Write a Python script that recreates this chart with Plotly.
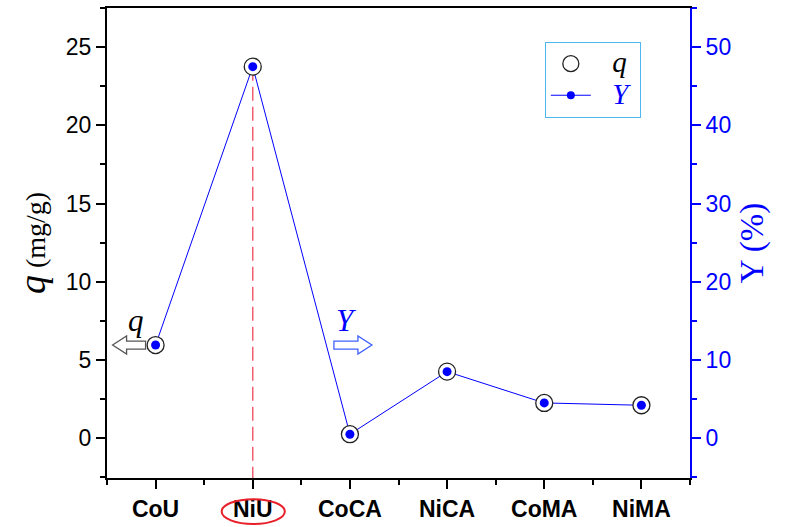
import plotly.graph_objects as go

categories = ["CoU", "NiU", "CoCA", "NiCA", "CoMA", "NiMA"]
q_values = [5.95, 23.75, 0.25, 4.25, 2.25, 2.1]
Y_values = [11.9, 47.5, 0.5, 8.5, 4.5, 4.2]
x_pos = list(range(len(categories)))

BLUE = "#0000ff"
q_range = [-2.55, 27.5]
Y_range = [-5.1, 55.0]

fig = go.Figure()

# Y line + markers (legend entry)
fig.add_trace(go.Scatter(
    x=x_pos, y=Y_values, yaxis="y2", mode="lines+markers",
    name="&nbsp;&nbsp;&nbsp;<span style='font-size:29px;color:#0000ff'><i>Y</i></span>&nbsp;",
    line=dict(color=BLUE, width=1), marker=dict(color=BLUE, size=8),
    legendrank=2, cliponaxis=False))
# q markers on top of the line
fig.add_trace(go.Scatter(
    x=x_pos, y=q_values, yaxis="y3", mode="markers",
    name="&nbsp;&nbsp;&nbsp;<span style='font-size:29px'><i>q</i></span>&nbsp;",
    marker=dict(symbol="circle", size=17, color="white",
                line=dict(color="#222", width=1.3)),
    legendrank=1, cliponaxis=False))
# Y dots on top again
fig.add_trace(go.Scatter(
    x=x_pos, y=Y_values, yaxis="y4", mode="markers", showlegend=False,
    marker=dict(color=BLUE, size=9), cliponaxis=False))

tickfont = dict(family="Liberation Sans, Arial", size=23, color="black")

fig.update_layout(
    width=786, height=527,
    margin=dict(l=107, r=96, t=8, b=49),
    paper_bgcolor="white", plot_bgcolor="white",
    xaxis=dict(
        range=[-0.5, 5.5], tickmode="array", tickvals=x_pos, ticktext=categories,
        automargin=False,
        showgrid=False, zeroline=False, showline=True, linecolor="black",
        linewidth=2, mirror=True, ticks="outside", ticklen=9, tickwidth=2,
        tickcolor="black",
        tickfont=dict(family="Liberation Sans Narrow, Arial Narrow, Liberation Sans",
                      size=23, color="black", weight="bold"),
        minor=dict(dtick=0.5, tick0=0, ticks="outside", ticklen=5, tickwidth=2,
                   tickcolor="black", showgrid=False),
    ),
    yaxis=dict(
        range=q_range, tickmode="linear", tick0=0, dtick=5, automargin=False,
        showgrid=False, zeroline=False, showline=True, linecolor="black",
        linewidth=2, ticks="outside", ticklen=9, tickwidth=2, tickcolor="black",
        tickfont=tickfont,
        minor=dict(dtick=2.5, ticks="outside", ticklen=5, tickwidth=2,
                   tickcolor="black", showgrid=False),
        title=dict(text="<span style='font-size:38px'><i>q</i></span> (mg/g)",
                   font=dict(family="Liberation Serif, Times New Roman", size=28,
                             color="black"), standoff=12),
    ),
    yaxis2=dict(
        range=Y_range, overlaying="y", side="right", tickmode="linear", tick0=0,
        dtick=10, automargin=False,
        showgrid=False, zeroline=False, showline=True, linecolor=BLUE,
        linewidth=2, ticks="outside", ticklen=9, tickwidth=2, tickcolor=BLUE,
        tickfont=dict(family="Liberation Sans, Arial", size=23, color=BLUE),
        minor=dict(dtick=5, ticks="outside", ticklen=5, tickwidth=2,
                   tickcolor=BLUE, showgrid=False),
        title=dict(text="Y (%)", font=dict(family="Liberation Serif, Times New Roman",
                                           size=33, color=BLUE), standoff=10),
    ),
    yaxis3=dict(range=q_range, overlaying="y", visible=False),
    yaxis4=dict(range=Y_range, overlaying="y", visible=False),
    legend=dict(
        x=0.751, y=0.928, xanchor="left", yanchor="top",
        bordercolor="#4db8f0", borderwidth=1, bgcolor="white",
        font=dict(family="Liberation Serif, Times New Roman", size=22, color="black"),
        itemwidth=40, tracegroupgap=0,
    ),
    showlegend=True,
)

# Red dashed line under NiU
fig.add_shape(type="line", xref="x", yref="y", x0=x_pos[1], x1=x_pos[1],
              y0=q_values[1], y1=q_range[0],
              line=dict(color="#f06070", width=1.5, dash="14px,6px"), layer="below")
# Red ellipse around NiU label
fig.add_shape(type="circle", xref="x", yref="paper", x0=0.68, x1=1.33,
              y0=-0.098, y1=-0.045, line=dict(color="#e8202a", width=2))

# Hollow arrows, anchored at the CoU level, drawn in pixel offsets
left_arrow = "M -43 0 L -29 9 L -29 4 L -10 4 L -10 -4 L -29 -4 L -29 -9 Z"
right_arrow = "M -16 4 L 8 4 L 8 9 L 22 0 L 8 -9 L 8 -4 L -16 -4 Z"
fig.add_shape(type="path", xref="x", yref="y", xsizemode="pixel", ysizemode="pixel",
              xanchor=x_pos[0], yanchor=q_values[0], path=left_arrow,
              line=dict(color="#555", width=1.3), fillcolor="white")
fig.add_shape(type="path", xref="x", yref="y", xsizemode="pixel", ysizemode="pixel",
              xanchor=x_pos[2], yanchor=q_values[0], path=right_arrow,
              line=dict(color="#4060ff", width=1.3), fillcolor="white")

# q / Y labels above the arrows
fig.add_annotation(x=-0.2, y=7.5, xref="x", yref="y", text="<i>q</i>",
                   showarrow=False,
                   font=dict(family="Liberation Serif, Times New Roman", size=31,
                             color="black"))
fig.add_annotation(x=1.96, y=7.5, xref="x", yref="y", text="<i>Y</i>",
                   showarrow=False,
                   font=dict(family="Liberation Serif, Times New Roman", size=31,
                             color=BLUE))

fig.write_html("out.html", config={"displayModeBar": False},
               post_script="document.body.style.margin='0';")
